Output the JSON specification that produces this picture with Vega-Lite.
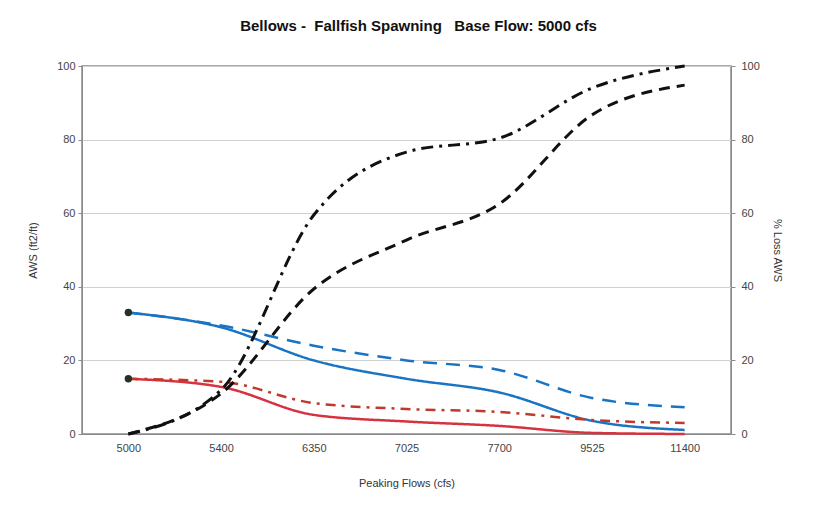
{
  "$schema": "https://vega.github.io/schema/vega-lite/v6.json",
  "width": 649,
  "height": 368,
  "autosize": "none",
  "padding": {"left": 82, "top": 66, "right": 87, "bottom": 71},
  "background": "white",
  "config": {
    "font": "Liberation Sans",
    "view": {"stroke": "#8a8a8a", "strokeWidth": 1.5},
    "axis": {"labelFont": "Liberation Sans", "titleFont": "Liberation Sans", "labelColor": "#444", "titleColor": "#333", "labelFontSize": 11, "titleFontSize": 11, "titleFontWeight": "normal", "domainColor": "#8a8a8a", "tickColor": "#8a8a8a", "gridColor": "#d0d0d0", "labelOverlap": false}
  },
  "title": {"text": "Bellows -\u00a0 Fallfish Spawning\u00a0 \u00a0Base Flow: 5000 cfs", "font": "Liberation Sans", "fontSize": 15, "fontWeight": "bold", "color": "#111", "offset": 26, "dx": 12},
  "data": {"values": [
    {"flow": "5000", "series": "AWS 1", "value": 33},
    {"flow": "5400", "series": "AWS 1", "value": 29},
    {"flow": "6350", "series": "AWS 1", "value": 20},
    {"flow": "7025", "series": "AWS 1", "value": 15},
    {"flow": "7700", "series": "AWS 1", "value": 11.3},
    {"flow": "9525", "series": "AWS 1", "value": 3.6},
    {"flow": "11400", "series": "AWS 1", "value": 1.1},
    {"flow": "5000", "series": "AWS 2", "value": 33},
    {"flow": "5400", "series": "AWS 2", "value": 29.5},
    {"flow": "6350", "series": "AWS 2", "value": 24},
    {"flow": "7025", "series": "AWS 2", "value": 20},
    {"flow": "7700", "series": "AWS 2", "value": 17.4},
    {"flow": "9525", "series": "AWS 2", "value": 9.8},
    {"flow": "11400", "series": "AWS 2", "value": 7.3},
    {"flow": "5000", "series": "AWS 3", "value": 15},
    {"flow": "5400", "series": "AWS 3", "value": 12.8},
    {"flow": "6350", "series": "AWS 3", "value": 5.2},
    {"flow": "7025", "series": "AWS 3", "value": 3.4},
    {"flow": "7700", "series": "AWS 3", "value": 2.2},
    {"flow": "9525", "series": "AWS 3", "value": 0.3},
    {"flow": "11400", "series": "AWS 3", "value": 0},
    {"flow": "5000", "series": "AWS 4", "value": 15},
    {"flow": "5400", "series": "AWS 4", "value": 14.2},
    {"flow": "6350", "series": "AWS 4", "value": 8.4},
    {"flow": "7025", "series": "AWS 4", "value": 6.8},
    {"flow": "7700", "series": "AWS 4", "value": 6},
    {"flow": "9525", "series": "AWS 4", "value": 3.8},
    {"flow": "11400", "series": "AWS 4", "value": 3},
    {"flow": "5000", "series": "Loss 1", "value": 0},
    {"flow": "5400", "series": "Loss 1", "value": 12},
    {"flow": "6350", "series": "Loss 1", "value": 59.5},
    {"flow": "7025", "series": "Loss 1", "value": 76.6},
    {"flow": "7700", "series": "Loss 1", "value": 80.4},
    {"flow": "9525", "series": "Loss 1", "value": 94},
    {"flow": "11400", "series": "Loss 1", "value": 100},
    {"flow": "5000", "series": "Loss 2", "value": 0},
    {"flow": "5400", "series": "Loss 2", "value": 11},
    {"flow": "6350", "series": "Loss 2", "value": 39.4},
    {"flow": "7025", "series": "Loss 2", "value": 52.7},
    {"flow": "7700", "series": "Loss 2", "value": 62.5},
    {"flow": "9525", "series": "Loss 2", "value": 86.7},
    {"flow": "11400", "series": "Loss 2", "value": 94.8}
  ]},
  "encoding": {
    "x": {"field": "flow", "type": "ordinal", "sort": null, "scale": {"type": "point", "padding": 0.5},
      "axis": {"title": "Peaking Flows (cfs)", "labelAngle": 0, "ticks": false, "labelPadding": 8, "titlePadding": 24, "grid": false}}
  },
  "layer": [
    {
      "transform": [{"filter": "indexof(datum.series, 'AWS') === 0"}],
      "mark": {"type": "line", "interpolate": "monotone", "strokeWidth": 2.5},
      "encoding": {
        "y": {"field": "value", "type": "quantitative", "scale": {"domain": [0, 100]},
          "axis": {"title": "AWS (ft2/ft)", "values": [0, 20, 40, 60, 80, 100], "tickSize": 4, "labelPadding": 3, "titlePadding": 18}},
        "color": {"field": "series", "type": "nominal", "legend": null,
          "scale": {"domain": ["AWS 1", "AWS 2", "AWS 3", "AWS 4", "Loss 1", "Loss 2"], "range": ["#1a74c4", "#1a74c4", "#d7323f", "#c0392b", "#111111", "#111111"]}},
        "strokeDash": {"field": "series", "type": "nominal", "legend": null,
          "scale": {"domain": ["AWS 1", "AWS 2", "AWS 3", "AWS 4"], "range": [[1, 0], [14, 9], [1, 0], [10, 6, 3, 6]]}}
      }
    },
    {
      "transform": [{"filter": "indexof(datum.series, 'Loss') === 0"}],
      "mark": {"type": "line", "interpolate": "monotone", "strokeWidth": 3},
      "encoding": {
        "y": {"field": "value", "type": "quantitative", "scale": {"domain": [0, 100]},
          "axis": {"title": "% Loss AWS", "orient": "right", "values": [0, 20, 40, 60, 80, 100], "tickSize": 4, "labelPadding": 6, "titlePadding": 12, "grid": false}},
        "color": {"field": "series", "type": "nominal", "legend": null,
          "scale": {"domain": ["AWS 1", "AWS 2", "AWS 3", "AWS 4", "Loss 1", "Loss 2"], "range": ["#1a74c4", "#1a74c4", "#d7323f", "#c0392b", "#111111", "#111111"]}},
        "strokeDash": {"field": "series", "type": "nominal", "legend": null,
          "scale": {"domain": ["Loss 1", "Loss 2"], "range": [[12, 6, 3, 6], [11, 7]]}}
      }
    },
    {
      "transform": [{"filter": "datum.flow === '5000' && (datum.series === 'AWS 1' || datum.series === 'AWS 3')"}],
      "mark": {"type": "point", "filled": true, "size": 55, "opacity": 1, "color": "#223322"},
      "encoding": {
        "y": {"field": "value", "type": "quantitative", "scale": {"domain": [0, 100]}, "axis": null}
      }
    }
  ],
  "resolve": {"scale": {"y": "independent", "color": "shared", "strokeDash": "independent"}}
}
